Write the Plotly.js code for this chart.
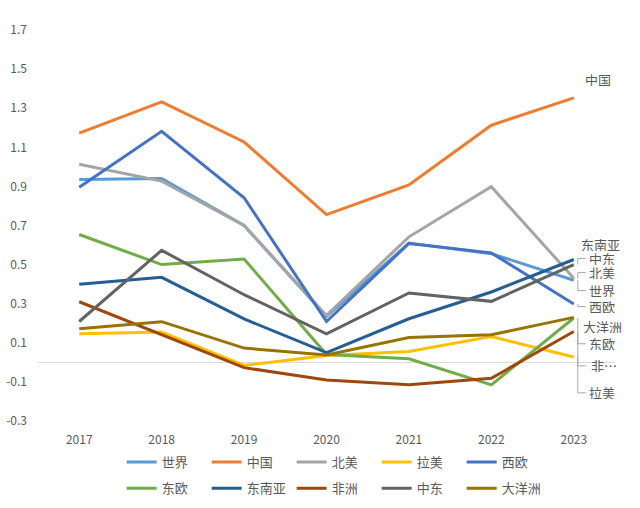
<!DOCTYPE html>
<html><head><meta charset="utf-8">
<script src="https://cdn.plot.ly/plotly-3.0.1.min.js"></script>
<style>html,body{margin:0;padding:0;background:#fff}#chart{width:640px;height:508px}</style>
</head><body><div id="chart"></div>
<script>
const years = [2017, 2018, 2019, 2020, 2021, 2022, 2023];
const seriesNames = ['世界','中国','北美','拉美','西欧','东欧','东南亚','非洲','中东','大洋洲'];
const world    = [0.935, 0.94, 0.70, 0.235, 0.61, 0.556, 0.42];
const china    = [1.172, 1.332, 1.127, 0.756, 0.907, 1.213, 1.353];
const nAmerica = [1.013, 0.927, 0.70, 0.24, 0.642, 0.898, 0.43];
const latAm    = [0.146, 0.155, -0.016, 0.035, 0.055, 0.132, 0.027];
const wEurope  = [0.896, 1.182, 0.842, 0.209, 0.608, 0.56, 0.298];
const eEurope  = [0.654, 0.50, 0.529, 0.04, 0.018, -0.115, 0.227];
const seAsia   = [0.40, 0.435, 0.222, 0.05, 0.223, 0.36, 0.526];
const africa   = [0.31, 0.141, -0.027, -0.09, -0.115, -0.081, 0.158];
const midEast  = [0.209, 0.573, 0.346, 0.146, 0.355, 0.312, 0.50];
const oceania  = [0.172, 0.208, 0.073, 0.038, 0.127, 0.141, 0.23];
const yTickVals = [-0.3, -0.1, 0.1, 0.3, 0.5, 0.7, 0.9, 1.1, 1.3, 1.5, 1.7];
const yTickText = ['-0.3','-0.1','0.1','0.3','0.5','0.7','0.9','1.1','1.3','1.5','1.7'];
const endLabels = ['世界','中国','北美','拉美','西欧','东欧','东南亚','非…','中东','大洋洲'];

const values = [world, china, nAmerica, latAm, wEurope, eEurope, seAsia, africa, midEast, oceania];
const colors = ['#5B9BD5','#ED7D31','#A5A5A5','#FFC000','#4472C4','#70AD47','#255E91','#9E480E','#636363','#997300'];
// label placement (layout only): y position of end label in axis units, pixel shift, leader flag
const labelY     = [0.367, 1.449, 0.459, -0.156, 0.285, 0.095, 0.603, -0.018, 0.531, 0.182];
const labelShift = [14, 10, 14, 14, 14, 14, 6, 16, 14, 8];
const hasLeader  = [true, false, true, true, true, true, false, true, true, false];

const FONT = '"Noto Sans CJK SC", "Noto Sans", sans-serif';
const traces = values.map((v, i) => ({
  x: years, y: v, name: seriesNames[i], type: 'scatter', mode: 'lines',
  line: {color: colors[i], width: 3},
  legend: i < 5 ? 'legend' : 'legend2'
}));

const annotations = values.map((v, i) => ({
  x: years[years.length - 1], y: labelY[i], xref: 'x', yref: 'y',
  text: endLabels[i], showarrow: false, xanchor: 'left', yanchor: 'middle',
  xshift: labelShift[i], height: 13, valign: 'middle', borderpad: 0,
  font: {family: FONT, size: 13, color: '#595959'}
}));

const shapes = [];
values.forEach((v, i) => {
  if (!hasLeader[i]) return;
  const last = v[v.length - 1];
  shapes.push({type: 'line', xref: 'x', yref: 'y', xsizemode: 'pixel', xanchor: years[years.length-1],
    x0: 4, x1: 4, y0: last, y1: labelY[i], line: {color: '#A6A6A6', width: 1}});
  shapes.push({type: 'line', xref: 'x', yref: 'y', xsizemode: 'pixel', xanchor: years[years.length-1],
    x0: 4, x1: 12, y0: labelY[i], y1: labelY[i], line: {color: '#A6A6A6', width: 1}});
});

const legendBase = {
  orientation: 'h', xanchor: 'left', yanchor: 'middle', x: 0.145,
  font: {family: FONT, size: 13, color: '#595959'},
  entrywidth: 40, entrywidthmode: 'pixels', itemwidth: 30, bgcolor: 'rgba(0,0,0,0)',
  traceorder: 'normal'
};

const layout = {
  width: 640, height: 508,
  margin: {l: 38, r: 25, t: 30, b: 87, autoexpand: false},
  paper_bgcolor: '#fff', plot_bgcolor: '#fff',
  font: {family: FONT, size: 12, color: '#595959'},
  showlegend: true,
  legend: Object.assign({}, legendBase, {y: -0.105}),
  legend2: Object.assign({}, legendBase, {y: -0.172}),
  xaxis: {
    range: [2016.5, 2023.5], tickvals: years, ticktext: years.map(String),
    showgrid: false, zeroline: false, showline: false, ticks: '',
    ticklabelstandoff: 10, fixedrange: true, automargin: false,
    tickfont: {family: FONT, size: 12, color: '#595959'}
  },
  yaxis: {
    range: [-0.3, 1.7], tickvals: yTickVals, ticktext: yTickText,
    showgrid: false, zeroline: true, zerolinecolor: '#D9D9D9', zerolinewidth: 1,
    showline: false, ticks: '', ticklabelstandoff: 10, automargin: false,
    tickfont: {family: FONT, size: 12, color: '#595959'}
  },
  annotations: annotations,
  shapes: shapes
};

Plotly.newPlot('chart', traces, layout, {staticPlot: true, displayModeBar: false});
</script></body></html>
